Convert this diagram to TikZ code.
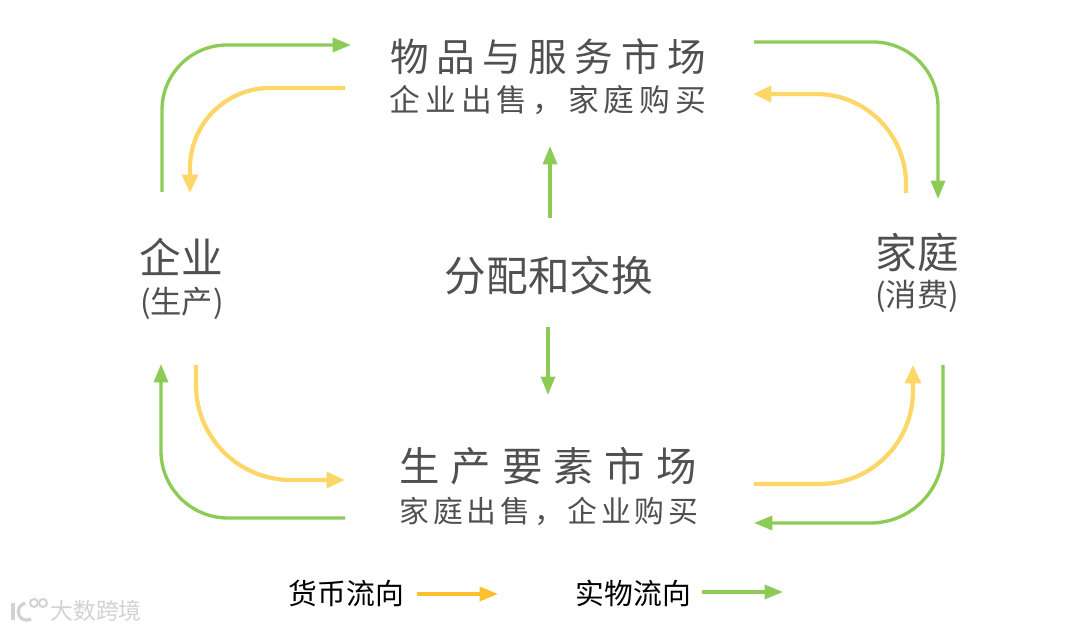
\documentclass[tikz,border=0pt]{standalone}
\usepackage{fontspec}
\setmainfont{Noto Sans CJK SC}
\usetikzlibrary{arrows.meta, positioning}
\definecolor{flowgreen}{HTML}{8CCB55}
\definecolor{flowyellow}{HTML}{FCD767}
\definecolor{legendyellow}{HTML}{FBC02D}
\definecolor{labelgray}{HTML}{505050}
\definecolor{markgray}{HTML}{D2D2D2}
\tikzstyle{flow} = [line width=1.9pt,-{Triangle[length=10.5pt,width=8pt]}]
\tikzstyle{money} = [line width=2.4pt,-{Triangle[length=10.5pt,width=9pt]},color=flowyellow]
\tikzstyle{goods} = [flow,color=flowgreen]
\tikzstyle{title} = [inner sep=0pt,text=labelgray,font=\fontsize{22}{26}\selectfont\addfontfeature{LetterSpace=19.5}]
\tikzstyle{subtitle} = [inner sep=0pt,text=labelgray,font=\fontsize{17.5}{21}\selectfont\addfontfeature{LetterSpace=16}]
\tikzstyle{actor} = [inner sep=0pt,text=labelgray,font=\fontsize{23.7}{27}\selectfont]
\tikzstyle{actorsub} = [inner sep=0pt,text=labelgray,font=\fontsize{17.8}{20}\selectfont]
\tikzstyle{legend} = [inner sep=0pt,text=black,font=\fontsize{16.4}{20}\selectfont]

\begin{document}
\begin{tikzpicture}[x=0.02cm, y=-0.02cm]
    \useasboundingbox (0,0) rectangle (1080,631);
    % markets
    \node [title] (goodsmarket) at (548,57) {物品与服务市场};
    \node [subtitle] (goodsnote) at (548,100) {企业出售，家庭购买};
    \node [title, font=\fontsize{23}{27}\selectfont\addfontfeature{LetterSpace=27}] (factormarket) at (548,466) {生产要素市场};
    \node [subtitle, font=\fontsize{17}{21}\selectfont\addfontfeature{LetterSpace=12.5}] (factornote) at (549,511) {家庭出售，企业购买};
    \node [actor] (exchange) at (549,276) {分配和交换};
    % actors
    \node [actor] (firm) at (181,257) {企业};
    \node [actorsub] (firmnote) at (182,303) {(生产)};
    \node [actor] (home) at (917,253) {家庭};
    \node [actorsub] (homenote) at (917,296) {(消费)};
    % ends of the curved flows
    \coordinate (tlgo) at (162,192);
    \coordinate (tlgoend) at (351,45);
    \coordinate (tlpay) at (345,88);
    \coordinate (tlpayend) at (190,193);
    \coordinate (trgo) at (754,42);
    \coordinate (trgoend) at (938,199);
    \coordinate (trpay) at (906,193);
    \coordinate (trpayend) at (753,94);
    \coordinate (blpay) at (196,365);
    \coordinate (blpayend) at (345,480);
    \coordinate (blgo) at (345,518);
    \coordinate (blgoend) at (161,364);
    \coordinate (brpay) at (754,484);
    \coordinate (brpayend) at (913,365);
    \coordinate (brgo) at (943,365);
    \coordinate (brgoend) at (754,523);
    \draw [goods, rounded corners=1.3cm] (tlgo) -- (tlgo |- tlgoend) -- (tlgoend);
    \draw [money, rounded corners=1.6cm] (tlpay) -- (tlpayend |- tlpay) -- (tlpayend);
    \draw [goods, rounded corners=1.3cm] (trgo) -- (trgoend |- trgo) -- (trgoend);
    \draw [money, rounded corners=1.8cm] (trpay) -- (trpay |- trpayend) -- (trpayend);
    \draw [money, rounded corners=1.9cm] (blpay) -- (blpay |- blpayend) -- (blpayend);
    \draw [goods, rounded corners=1.34cm] (blgo) -- (blgoend |- blgo) -- (blgoend);
    \draw [money, rounded corners=1.86cm] (brpay) -- (brpayend |- brpay) -- (brpayend);
    \draw [goods, rounded corners=1.45cm] (brgo) -- (brgo |- brgoend) -- (brgoend);
    % centre
    \coordinate (upstart) at (550,218);
    \coordinate (upend) at (550,146);
    \coordinate (downstart) at (548,327);
    \coordinate (downend) at (548,395);
    \draw [goods] (upstart) -- (upend);
    \draw [goods] (downstart) -- (downend);
    % legend
    \node [legend] (moneylabel) at (346.5,593) {货币流向};
    \node [legend] (goodslabel) at (633.5,593) {实物流向};
    \coordinate (moneystart) at (417,594);
    \coordinate (moneyend) at (498,594);
    \coordinate (goodsstart) at (702,592);
    \coordinate (goodsend) at (783,592);
    \draw [flow, color=legendyellow] (moneystart) -- (moneyend);
    \draw [goods] (goodsstart) -- (goodsend);
    % watermark
    \node [inner sep=0pt, text=markgray, font=\fontsize{13}{15}\selectfont] (mark) at (96,611) {大数跨境};
    \draw [markgray, line width=1.8pt] (13,603) -- (13,620);
    \draw [markgray, line width=1.8pt] (31,619) arc (60:260:8.5);
    \draw [markgray, line width=1.1pt] (34,603) circle (4);
    \draw [markgray, line width=1.1pt] (43,603) circle (4);
\end{tikzpicture}
\end{document}
